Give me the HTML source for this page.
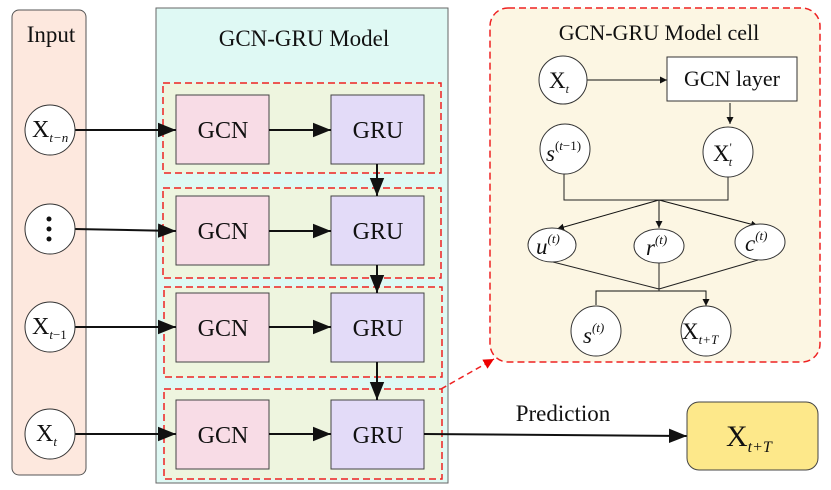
<!DOCTYPE html>
<html><head><style>body{margin:0;background:#fff}svg{display:block}text{font-family:"Liberation Serif",serif;fill:#111}</style></head><body>
<svg width="831" height="490" viewBox="0 0 831 490" xmlns="http://www.w3.org/2000/svg">
<defs>
<marker id="a" viewBox="0 0 10 10" refX="10" refY="5" markerWidth="7" markerHeight="7" orient="auto-start-reverse" markerUnits="strokeWidth"><path d="M0,0L10,5L0,10z" fill="#111"/></marker>
<marker id="s" viewBox="0 0 10 10" refX="10" refY="5" markerWidth="9" markerHeight="9" orient="auto" markerUnits="strokeWidth"><path d="M0,1L10,5L0,9z" fill="#111"/></marker>
<marker id="r" viewBox="0 0 10 10" refX="10" refY="5" markerWidth="7" markerHeight="7" orient="auto" markerUnits="strokeWidth"><path d="M0,0L10,5L0,10z" fill="#e00"/></marker>
</defs>
<rect x="12" y="10" width="74" height="465" rx="7" fill="#fde8de" stroke="#555"/>
<text x="51" y="42" font-size="23" text-anchor="middle">Input</text>
<rect x="156" y="8" width="292" height="475" fill="#dff9f4" stroke="#666"/>
<text x="304" y="46" font-size="23" text-anchor="middle">GCN-GRU Model</text>
<g fill="#eef5df" stroke="#e22" stroke-width="1.5" stroke-dasharray="7,4">
<rect x="163" y="83" width="278" height="90"/>
<rect x="163" y="188" width="278" height="90"/>
<rect x="164" y="287" width="278" height="90"/>
<rect x="164" y="389" width="278" height="90"/>
</g>
<g stroke="#444">
<rect x="176" y="95" width="93" height="69" fill="#f8dce6"/>
<rect x="176" y="196" width="93" height="69" fill="#f8dce6"/>
<rect x="176" y="293" width="93" height="69" fill="#f8dce6"/>
<rect x="176" y="400" width="93" height="69" fill="#f8dce6"/>
<rect x="331" y="95" width="93" height="69" fill="#e3dbf8"/>
<rect x="331" y="196" width="93" height="69" fill="#e3dbf8"/>
<rect x="331" y="293" width="93" height="69" fill="#e3dbf8"/>
<rect x="331" y="400" width="93" height="69" fill="#e3dbf8"/>
</g>
<g font-size="24" text-anchor="middle">
<text x="223" y="138">GCN</text><text x="223" y="239">GCN</text><text x="223" y="336">GCN</text><text x="223" y="443">GCN</text>
<text x="378" y="138">GRU</text><text x="378" y="239">GRU</text><text x="378" y="336">GRU</text><text x="378" y="443">GRU</text>
</g>
<g stroke="#111" stroke-width="2" fill="none" marker-end="url(#s)">
<line x1="74" y1="130" x2="176" y2="130"/>
<line x1="74" y1="229" x2="176" y2="231"/>
<line x1="74" y1="327" x2="176" y2="327"/>
<line x1="74" y1="434" x2="176" y2="434"/>
<line x1="269" y1="130" x2="331" y2="130"/>
<line x1="269" y1="231" x2="331" y2="231"/>
<line x1="269" y1="327" x2="331" y2="327"/>
<line x1="269" y1="434" x2="331" y2="434"/>
<line x1="377" y1="164" x2="377" y2="196"/>
<line x1="377" y1="265" x2="377" y2="293"/>
<line x1="377" y1="362" x2="377" y2="400"/>
<line x1="424" y1="434" x2="687" y2="436"/>
</g>
<g fill="#fff" stroke="#333">
<circle cx="50" cy="130" r="25"/><circle cx="50" cy="229" r="25"/><circle cx="50" cy="327" r="25"/><circle cx="50" cy="434" r="25"/>
</g>
<g font-size="24">
<text x="32" y="137">X<tspan font-size="13" font-style="italic" dy="5">t−n</tspan></text>
<text x="32" y="334">X<tspan font-size="13" font-style="italic" dy="5">t</tspan><tspan font-size="13">−1</tspan></text>
<text x="36" y="441">X<tspan font-size="13" font-style="italic" dy="5">t</tspan></text>
</g>
<g fill="#111"><circle cx="49" cy="219" r="2.5"/><circle cx="49" cy="229" r="2.5"/><circle cx="49" cy="239" r="2.5"/></g>
<text x="563" y="421" font-size="23" text-anchor="middle">Prediction</text>
<rect x="687" y="402" width="131" height="68" rx="12" fill="#fde88a" stroke="#444"/>
<text x="726" y="446" font-size="30">X<tspan font-size="16" font-style="italic" dy="6">t+T</tspan></text>
<line x1="441" y1="389" x2="494" y2="359" stroke="#e22" stroke-width="1.5" stroke-dasharray="6,4" marker-end="url(#r)"/>
<rect x="490" y="8" width="330" height="354" rx="18" fill="#fcf6e3" stroke="#e22" stroke-width="1.5" stroke-dasharray="7,4"/>
<text x="659" y="40" font-size="22" text-anchor="middle">GCN-GRU Model cell</text>
<rect x="667" y="57" width="130" height="44" fill="#fff" stroke="#333"/>
<text x="732" y="86" font-size="22" text-anchor="middle">GCN layer</text>
<g stroke="#111" stroke-width="1" fill="none" marker-end="url(#a)">
<line x1="587" y1="80" x2="667" y2="80"/>
<line x1="730" y1="103" x2="730" y2="124"/>
<line x1="659" y1="200" x2="557" y2="229"/>
<line x1="659" y1="200" x2="659" y2="228"/>
<line x1="659" y1="200" x2="758" y2="226"/>
<polyline points="596,305 596,291 706,291 706,306"/>
</g>
<g stroke="#222" fill="none">
<polyline points="564,174 564,200 728,200 728,177"/>
<line x1="553" y1="262" x2="659" y2="289"/>
<line x1="659" y1="263" x2="659" y2="291"/>
<line x1="758" y1="260" x2="659" y2="289"/>
</g>
<g fill="#fff" stroke="#333">
<circle cx="563" cy="80" r="24"/>
<circle cx="565" cy="149" r="25"/>
<circle cx="728" cy="152" r="25"/>
<ellipse cx="552" cy="245" rx="24" ry="17"/>
<ellipse cx="659" cy="246" rx="25" ry="17"/>
<ellipse cx="760" cy="242" rx="25" ry="18"/>
<circle cx="596" cy="331" r="25"/>
<circle cx="706" cy="331" r="25"/>
</g>
<g font-size="23">
<text x="549" y="88">X<tspan font-size="12" font-style="italic" dy="5">t</tspan></text>
<text x="546" y="161" font-style="italic">s<tspan font-size="13" font-style="normal" dy="-11">(</tspan><tspan font-size="13">t</tspan><tspan font-size="13" font-style="normal">−1)</tspan></text>
<text x="713" y="161">X<tspan font-size="12" dy="-10">'</tspan><tspan font-size="12" font-style="italic" dx="-3" dy="15">t</tspan></text>
<text x="536" y="254" font-style="italic">u<tspan font-size="13" dy="-11">(t)</tspan></text>
<text x="646" y="255" font-style="italic">r<tspan font-size="13" dy="-11">(t)</tspan></text>
<text x="745" y="251" font-style="italic">c<tspan font-size="13" dy="-11">(t)</tspan></text>
<text x="583" y="343" font-style="italic">s<tspan font-size="13" dy="-11">(t)</tspan></text>
<text x="682" y="339">X<tspan font-size="13" font-style="italic" dy="5">t+T</tspan></text>
</g>
</svg>
</body></html>
